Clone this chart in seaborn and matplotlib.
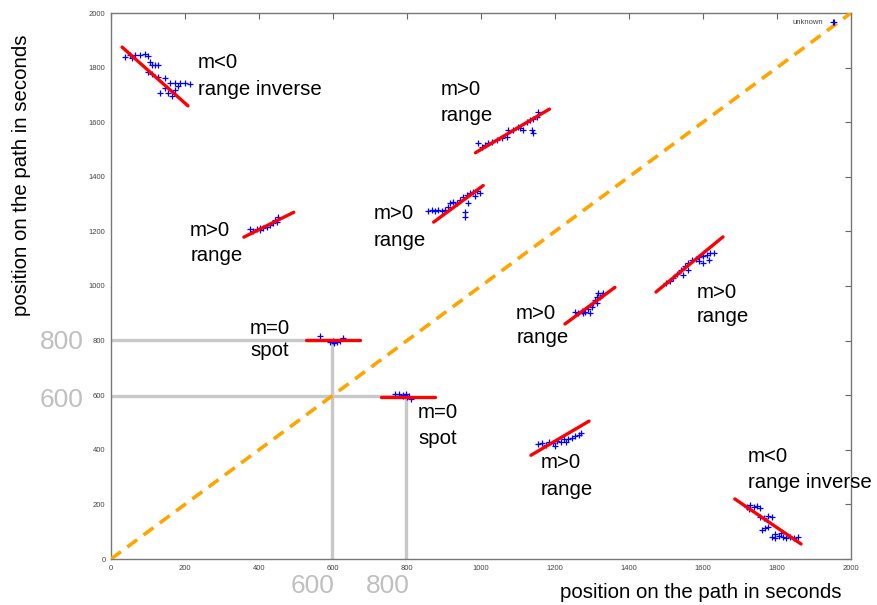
import matplotlib
matplotlib.use("Agg")
import matplotlib.pyplot as plt
import seaborn as sns
import pandas as pd
import numpy as np

# ---------------- data ----------------
# blue "+" observations, one list pair per cluster
cluster_names = ["A", "B", "C", "D", "E", "F", "G", "H", "I", "J"]
a_x = [38, 51, 57, 65, 78, 92, 100, 105, 111, 119, 127, 100, 111, 127, 146, 160, 173, 186, 200, 214, 181, 132, 154, 165, 173, 146]
a_y = [1839, 1846, 1835, 1846, 1846, 1850, 1842, 1820, 1810, 1810, 1810, 1784, 1777, 1766, 1762, 1744, 1744, 1744, 1744, 1740, 1733, 1707, 1707, 1696, 1718, 1725]
b_x = [993, 1002, 1011, 1020, 1029, 1042, 1056, 1069, 1074, 1087, 1101, 1105, 1114, 1123, 1132, 1141, 1151, 1155, 1137, 1141]
b_y = [1523, 1510, 1516, 1523, 1529, 1535, 1541, 1547, 1571, 1571, 1584, 1578, 1571, 1602, 1608, 1611, 1620, 1638, 1571, 1562]
c_x = [858, 867, 876, 885, 894, 903, 912, 916, 925, 934, 943, 952, 961, 970, 979, 988, 997, 957, 957, 966, 984]
c_y = [1276, 1278, 1276, 1278, 1276, 1278, 1291, 1303, 1309, 1303, 1315, 1327, 1333, 1340, 1345, 1349, 1342, 1272, 1254, 1303, 1330]
d_x = [376, 385, 394, 403, 412, 421, 430, 439, 448, 452, 443, 403]
d_y = [1209, 1201, 1209, 1205, 1211, 1217, 1223, 1230, 1236, 1254, 1242, 1214]
e_x = [1254, 1263, 1272, 1281, 1290, 1299, 1304, 1308, 1313, 1317, 1322, 1326, 1331, 1313, 1295, 1276]
e_y = [906, 902, 910, 906, 915, 924, 937, 949, 961, 973, 961, 967, 973, 937, 902, 900]
f_x = [1500, 1510, 1520, 1530, 1540, 1550, 1560, 1570, 1580, 1590, 1600, 1610, 1620, 1630, 1600, 1615, 1590, 1560, 1545]
f_y = [1010, 1020, 1030, 1045, 1060, 1075, 1085, 1095, 1100, 1105, 1110, 1115, 1120, 1120, 1085, 1095, 1090, 1060, 1040]
g_x = [1155, 1165, 1175, 1185, 1195, 1205, 1215, 1225, 1235, 1245, 1255, 1265, 1270, 1200, 1230]
g_y = [420, 425, 418, 428, 425, 432, 430, 438, 440, 445, 450, 455, 460, 415, 430]
h_x = [1719, 1728, 1737, 1745, 1754, 1724, 1754, 1765, 1775, 1786, 1760, 1768, 1776, 1786, 1795, 1805, 1815, 1825, 1835, 1845, 1857, 1795, 1810]
h_y = [192, 198, 190, 195, 188, 182, 154, 150, 158, 154, 106, 112, 118, 82, 78, 84, 80, 76, 82, 78, 80, 90, 95]
i_x = [565, 592, 600, 610, 620, 627, 604]
i_y = [817, 796, 800, 794, 798, 810, 790]
j_x = [768, 778, 788, 798, 806, 812, 800, 790]
j_y = [603, 605, 600, 603, 598, 585, 592, 596]

# fitted red segments: start / end points
seg_x0 = [30, 985, 872, 359, 1227, 1473, 1135, 1686, 527, 730]
seg_y0 = [1875, 1488, 1234, 1179, 861, 978, 380, 220, 802, 594]
seg_x1 = [208, 1185, 1006, 494, 1362, 1654, 1292, 1865, 673, 876]
seg_y1 = [1660, 1648, 1368, 1270, 995, 1180, 505, 55, 802, 594]

# gray guide lines (x, y pairs per guide)
guide_x = [[0, 600], [597, 597], [0, 800], [797, 797]]
guide_y = [[804, 804], [804, 0], [598, 598], [598, 0]]

diag_x = [0, 2000]
diag_y = [0, 2000]

# annotations: first line, second line, x, y of first line, y of second line
ann_line1 = ["m<0", "m>0", "m>0", "m>0", "m=0", "m>0", "m>0", "m=0", "m>0", "m<0"]
ann_line2 = ["range inverse", "range", "range", "range", "spot", "range", "range", "spot", "range", "range inverse"]
ann_x = [235, 892, 711, 214, 376, 1095, 1584, 830, 1162, 1722]
ann_y1 = [1817, 1721, 1267, 1205, 846, 901, 978, 535, 352, 374]
ann_y2 = [1718, 1623, 1168, 1110, 762, 810, 890, 443, 256, 282]

ticks = [0, 200, 400, 600, 800, 1000, 1200, 1400, 1600, 1800, 2000]
legend_x = [1952]
legend_y = [1966]

# ---------------- figure ----------------
sns.set_style("white")
plt.rcParams['font.family'] = ['Liberation Sans', 'DejaVu Sans']

fig = plt.figure(figsize=(8.78, 6.05), dpi=100)
ax = fig.add_axes([111 / 878, 46 / 605, 740 / 878, 546 / 605])

# gray guides
for gx, gy in zip(guide_x, guide_y):
    sns.lineplot(x=gx, y=gy, ax=ax, color="#c8c8c8", linewidth=2.4, sort=False,
                 estimator=None, zorder=2)

# orange diagonal
sns.lineplot(x=diag_x, y=diag_y, ax=ax, color="#ffa500", linewidth=2.6, estimator=None, zorder=3)
ax.get_lines()[-1].set_linestyle((0, (3.4, 2.2)))

# blue points
all_x = a_x + b_x + c_x + d_x + e_x + f_x + g_x + h_x + i_x + j_x
all_y = a_y + b_y + c_y + d_y + e_y + f_y + g_y + h_y + i_y + j_y
pts = pd.DataFrame({"x": all_x, "y": all_y})
sns.scatterplot(data=pts, x="x", y="y", ax=ax, marker="+", color="#0000ff",
                s=13, linewidth=0.9, zorder=4)

# red fitted segments
seg_rows = []
for k, (x0, y0, x1, y1) in enumerate(zip(seg_x0, seg_y0, seg_x1, seg_y1)):
    seg_rows.append({"seg": k, "x": x0, "y": y0})
    seg_rows.append({"seg": k, "x": x1, "y": y1})
segs = pd.DataFrame(seg_rows)
sns.lineplot(data=segs, x="x", y="y", units="seg", estimator=None, ax=ax,
             color="#ff0000", linewidth=2.4, zorder=5, sort=False)

# legend sample "unknown"
sns.scatterplot(x=legend_x, y=legend_y, ax=ax, marker="+", color="#0000ff",
                s=13, linewidth=0.8, zorder=4, label="unknown")
leg = ax.legend(loc="upper right", markerfirst=False, frameon=False, fontsize=5.5,
                handletextpad=0.4, borderaxespad=0.3, bbox_to_anchor=(0.995, 1.0))
for t in leg.get_texts():
    t.set_color("#444444")

# annotations
for l1, l2, xx, y1, y2 in zip(ann_line1, ann_line2, ann_x, ann_y1, ann_y2):
    ax.text(xx, y1, l1, fontsize=14.7, color="black", ha="left", va="center", zorder=6)
    ax.text(xx, y2, l2, fontsize=14.7, color="black", ha="left", va="center", zorder=6)

ax.set_xlim(0, 2000)
ax.set_ylim(0, 2000)
ax.set_xticks(ticks)
ax.set_yticks(ticks)
ax.set_xticklabels([str(t) for t in ticks])
ax.set_yticklabels([str(t) for t in ticks])
ax.tick_params(direction="in", length=4, width=0.8, top=True, right=True,
               labelsize=5.5, labelcolor="#444444", color="#666666", pad=4)
for sp in ax.spines.values():
    sp.set_color("#777777")
    sp.set_linewidth(1.0)
ax.set_xlabel("")
ax.set_ylabel("")

# axis titles
fig.text(701 / 878, 1 - 592 / 605, "position on the path in seconds", fontsize=14.7,
         ha="center", va="center", color="black")
fig.text(22 / 878, 1 - 175 / 605, "position on the path in seconds", fontsize=14.7,
         ha="center", va="center", rotation=90, color="black")

# large gray guide labels
big = dict(fontsize=19, color="#c0c0c0", ha="center", va="center")
fig.text(62 / 878, 1 - 342 / 605, "800", **big)
fig.text(62 / 878, 1 - 400 / 605, "600", **big)
fig.text(313 / 878, 1 - 586 / 605, "600", **big)
fig.text(388 / 878, 1 - 586 / 605, "800", **big)

fig.savefig("out.png", dpi=100)
